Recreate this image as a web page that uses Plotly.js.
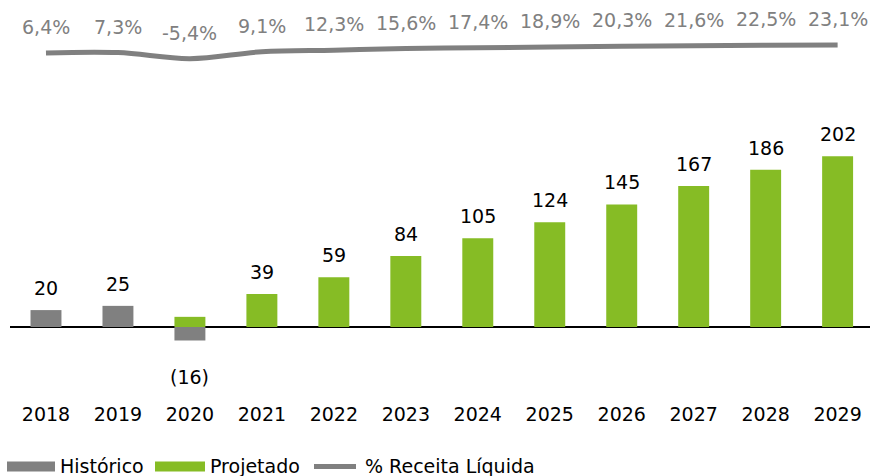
<!DOCTYPE html>
<html>
<head>
<meta charset="utf-8">
<script src="https://cdn.plot.ly/plotly-3.0.1.min.js"></script>
<style>html,body{margin:0;padding:0;background:#fff;}#chart{width:870px;height:476px;}</style>
</head>
<body>
<div id="chart"></div>
<script>
const years = ['2018','2019','2020','2021','2022','2023','2024','2025','2026','2027','2028','2029'];
const historico = [20, 25, -16, null, null, null, null, null, null, null, null, null];
const projetado = [null, null, 12, 39, 59, 84, 105, 124, 145, 167, 186, 202];
const barLabels = [20, 25, -16, 39, 59, 84, 105, 124, 145, 167, 186, 202];
const margem = [6.4, 7.3, -5.4, 9.1, 12.3, 15.6, 17.4, 18.9, 20.3, 21.6, 22.5, 23.1];
const seriesNames = ['Histórico', 'Projetado', '% Receita Líquida'];

const GREY = '#808080';
const GREEN = '#86bc25';
const FONT = 'DejaVu Sans, Verdana, sans-serif';
const FS = 19;

const idx = years.map((_, i) => i);

const traces = [
  {type:'bar', name:seriesNames[0], x:idx, y:historico, marker:{color:GREY}, width:0.43, hoverinfo:'skip'},
  {type:'bar', name:seriesNames[1], x:idx, y:projetado, marker:{color:GREEN}, width:0.43, hoverinfo:'skip'},
  {type:'scatter', mode:'lines', name:seriesNames[2], x:idx, y:margem, yaxis:'y2',
   line:{color:GREY, width:5, shape:'spline', smoothing:1}, hoverinfo:'skip'}
];

const fmtPct = v => v.toFixed(1).replace('.', ',') + '%';
const fmtNum = v => v < 0 ? '(' + Math.abs(v) + ')' : String(v);

const annotations = [];
barLabels.forEach((v, i) => {
  annotations.push({
    x: i, y: v, xref:'x', yref:'y', text: fmtNum(v), showarrow:false,
    yanchor: v < 0 ? 'top' : 'bottom', yshift: v < 0 ? -23 : 9,
    font:{family:FONT, size:FS, color:'#000'}
  });
});
margem.forEach((v, i) => {
  annotations.push({
    x: i, y: v, xref:'x', yref:'y2', text: fmtPct(v), showarrow:false,
    yanchor:'middle', yshift: 26,
    font:{family:FONT, size:FS, color:GREY}
  });
});

// manual legend (wide keys like the original)
const legY = -0.181; // paper y for legend row
const shapes = [
  {type:'rect', xref:'paper', yref:'paper', x0:-3/860, x1:45/860, y0:legY-5/395, y1:legY+5/395,
   fillcolor:GREY, line:{width:0}},
  {type:'rect', xref:'paper', yref:'paper', x0:145/860, x1:195/860, y0:legY-5/395, y1:legY+5/395,
   fillcolor:GREEN, line:{width:0}},
  {type:'line', xref:'paper', yref:'paper', x0:304/860, x1:346/860, y0:legY, y1:legY,
   line:{color:GREY, width:5}}
];
const legTextX = [48, 198, 353];
seriesNames.forEach((n, i) => {
  annotations.push({
    xref:'paper', yref:'paper', x: legTextX[i]/860, y: legY, text: n, showarrow:false,
    xanchor:'left', yanchor:'middle', font:{family:FONT, size:FS, color:'#000'}
  });
});

const layout = {
  width:870, height:476,
  margin:{l:10, r:0, t:0, b:81},
  paper_bgcolor:'#fff', plot_bgcolor:'#fff',
  barmode:'overlay',
  showlegend:false,
  xaxis:{range:[-0.5, 11.45], showgrid:false, showline:false, ticks:'', zeroline:false,
         tickmode:'array', tickvals:idx, ticktext:years, ticklabelstandoff:6,
         tickfont:{family:FONT, size:FS, color:'#000'}, fixedrange:true},
  yaxis:{range:[-80.5, 387], showgrid:false, showticklabels:false, zeroline:true,
         zerolinecolor:'#000', zerolinewidth:2, fixedrange:true},
  yaxis2:{overlaying:'y', range:[-706, 116.8], showgrid:false, showticklabels:false,
          zeroline:false, fixedrange:true},
  annotations: annotations,
  shapes: shapes,
  font:{family:FONT}
};

Plotly.newPlot('chart', traces, layout, {displayModeBar:false, staticPlot:true});
</script>
</body>
</html>
